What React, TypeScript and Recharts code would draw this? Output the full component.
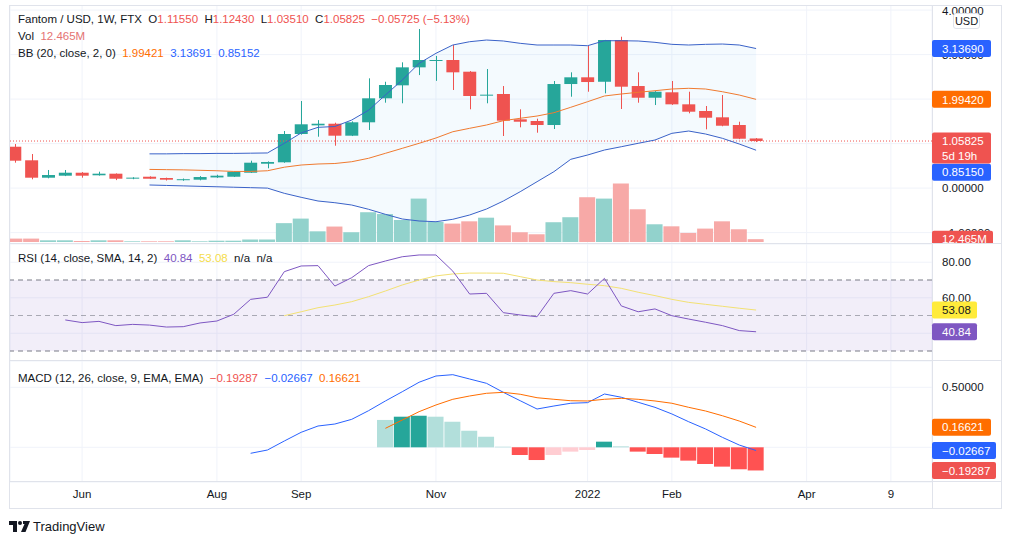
import React from "react";
import {
  ComposedChart,
  Bar,
  Line,
  Area,
  Cell,
  XAxis,
  YAxis,
  CartesianGrid,
  ReferenceLine,
  ReferenceArea,
} from "recharts";

// weekly bars, FTM/USD on FTX
const WEEKS = [
  "2021-05-10", "2021-05-17", "2021-05-24", "2021-05-31", "2021-06-07", "2021-06-14",
  "2021-06-21", "2021-06-28", "2021-07-05", "2021-07-12", "2021-07-19", "2021-07-26",
  "2021-08-02", "2021-08-09", "2021-08-16", "2021-08-23", "2021-08-30", "2021-09-06",
  "2021-09-13", "2021-09-20", "2021-09-27", "2021-10-04", "2021-10-11", "2021-10-18",
  "2021-10-25", "2021-11-01", "2021-11-08", "2021-11-15", "2021-11-22", "2021-11-29",
  "2021-12-06", "2021-12-13", "2021-12-20", "2021-12-27", "2022-01-03", "2022-01-10",
  "2022-01-17", "2022-01-24", "2022-01-31", "2022-02-07", "2022-02-14", "2022-02-21",
  "2022-02-28", "2022-03-07", "2022-03-14",
];

const OPEN = [
  0.93, 0.625, 0.234, 0.279, 0.346, 0.288, 0.324, 0.22, 0.256, 0.227, 0.19, 0.189,
  0.24, 0.256, 0.346, 0.548, 0.58, 1.216, 1.41, 1.447, 1.178, 1.479, 2.018, 2.31,
  2.714, 2.87, 2.879, 2.616, 2.08, 2.115, 1.546, 1.508, 1.418, 2.339, 2.49, 2.39,
  3.328, 2.294, 2.031, 2.153, 1.883, 1.733, 1.591, 1.418, 1.1155,
];
const HIGH = [
  0.99, 0.766, 0.407, 0.407, 0.36, 0.369, 0.33, 0.245, 0.265, 0.235, 0.215, 0.27,
  0.3, 0.37, 0.616, 0.6, 1.283, 1.957, 1.528, 1.47, 1.5, 2.467, 2.39, 2.827,
  3.575, 2.97, 3.216, 2.63, 2.676, 2.294, 1.771, 1.56, 2.407, 2.602, 3.193, 3.33,
  3.402, 2.602, 2.18, 2.407, 2.166, 1.845, 2.092, 1.492, 1.1243,
];
const LOW = [
  0.571, 0.198, 0.22, 0.27, 0.234, 0.28, 0.18, 0.2, 0.205, 0.17, 0.165, 0.175,
  0.23, 0.25, 0.34, 0.445, 0.57, 1.2, 1.155, 0.953, 1.17, 1.306, 1.92, 1.906,
  2.54, 2.41, 2.205, 1.771, 1.906, 1.171, 1.366, 1.245, 1.328, 2.054, 2.166, 2.13,
  1.778, 1.919, 1.867, 1.87, 1.681, 1.321, 1.39, 1.1, 1.0351,
];
const CLOSE = [
  0.616, 0.234, 0.294, 0.346, 0.279, 0.324, 0.211, 0.235, 0.211, 0.189, 0.2, 0.249,
  0.279, 0.369, 0.571, 0.587, 1.216, 1.434, 1.447, 1.178, 1.479, 2.018, 2.317, 2.714,
  2.879, 2.879, 2.602, 2.07, 2.1, 1.515, 1.492, 1.418, 2.339, 2.49, 2.384, 3.328,
  2.279, 2.031, 2.166, 1.883, 1.717, 1.582, 1.402, 1.11, 1.05825,
];
// volume, millions
const VOLUME = [
  15, 15, 7.5, 7.5, 4.4, 7.5, 7.5, 3, 3, 3, 7.5, 3,
  5.7, 5.7, 11, 11, 83, 103, 47, 68, 43, 131, 123, 97,
  191, 88, 81, 91, 107, 73, 43, 34, 87, 109, 197, 191,
  257, 144, 78, 69, 40, 59, 91, 56, 12.465,
];

const lead = (n: number, arr: number[]) => [...Array(n).fill(null), ...arr];

const BB_UPPER = lead(8, [
  0.77, 0.77, 0.775, 0.775, 0.78, 0.78, 0.785, 0.79, 1.007, 1.24, 1.366, 1.384,
  1.53, 1.75, 2.092, 2.429, 2.804, 3.029, 3.216, 3.29, 3.328, 3.306, 3.254, 3.216,
  3.216, 3.216, 3.2, 3.312, 3.312, 3.306, 3.276, 3.231, 3.216, 3.231, 3.238, 3.216,
  3.1369,
]);
const BB_BASIS = lead(8, [
  0.42, 0.415, 0.41, 0.4, 0.39, 0.375, 0.375, 0.39, 0.47, 0.519, 0.542, 0.553,
  0.593, 0.67, 0.782, 0.894, 1.007, 1.126, 1.267, 1.344, 1.418, 1.515, 1.569, 1.62,
  1.694, 1.816, 1.942, 2.07, 2.115, 2.153, 2.189, 2.227, 2.243, 2.227, 2.166, 2.092,
  1.9942,
]);
const BB_LOWER = lead(8, [
  0.07, 0.06, 0.05, 0.04, 0.03, 0.02, 0.01, 0.0, -0.117, -0.207, -0.29, -0.328,
  -0.38, -0.476, -0.589, -0.694, -0.739, -0.755, -0.701, -0.604, -0.47, -0.29, -0.081, 0.144,
  0.369, 0.647, 0.744, 0.856, 0.93, 1.007, 1.081, 1.231, 1.283, 1.216, 1.119, 0.991,
  0.8515,
]);

const RSI = lead(3, [
  47.5, 46, 46.7, 44.3, 45, 44.6, 43.5, 43.7, 45.8, 46.9, 50.7, 59.1,
  60.3, 74.7, 77.9, 78.1, 66.6, 71.3, 78.1, 80.7, 83.1, 84.1, 84.1, 75,
  62.1, 62.5, 51.6, 50.3, 49.3, 62.5, 64, 62.1, 70.9, 55.4, 52.1, 53.7,
  49.9, 48, 46.2, 44.3, 41.5, 40.84,
]);
const RSI_MA = lead(16, [
  49.9, 52.1, 54.4, 55.9, 57.8, 60.6, 63.8, 67.2, 70, 72.3, 73.4, 73.9,
  73.9, 73.8, 71.9, 70, 69.1, 68.5, 67.6, 66.8, 65.3, 63.1, 61.2, 59.1,
  57.4, 56.3, 55.2, 54.1, 53.08,
]);

const MACD = lead(14, [
  -0.05, -0.0225, 0.0525, 0.125, 0.1775, 0.194, 0.233, 0.305, 0.386, 0.463, 0.542, 0.594,
  0.605, 0.569, 0.533, 0.458, 0.388, 0.319, 0.344, 0.367, 0.372, 0.444, 0.417, 0.375,
  0.333, 0.278, 0.213, 0.153, 0.083, 0.019, -0.02667,
]);
const SIGNAL = lead(22, [
  0.158, 0.2275, 0.297, 0.3525, 0.4, 0.4275, 0.45, 0.458, 0.442, 0.413, 0.4, 0.388,
  0.386, 0.4, 0.408, 0.4, 0.386, 0.367, 0.333, 0.3025, 0.263, 0.219, 0.16621,
]);
const HIST = lead(22, [
  0.228, 0.255, 0.263, 0.255, 0.213, 0.138, 0.088, 0.005, -0.064, -0.106, -0.064, -0.036,
  -0.0225, 0.047, 0.008, -0.036, -0.056, -0.086, -0.111, -0.139, -0.161, -0.183, -0.19287,
]);

const TICK_IDX = [4, 12, 17, 25, 34, 39, 47, 52];
const TICK_LABELS = ["Jun", "Aug", "Sep", "Nov", "2022", "Feb", "Apr", "9"];
const PRICE_TICKS = [-1, 0, 1, 2, 3, 4];
const RSI_TICKS = [40, 60, 80];
const MACD_TICKS = [0, 0.5];

const UP = "#26a69a";
const DOWN = "#ef5350";
const TEXT = "#131722";
const GRID = "#f0f3fa";
const BORDER = "#e0e3eb";
const BLUE = "#2962ff";
const ORANGE = "#ff6d00";
const PURPLE = "#7e57c2";
const FONT = "'Liberation Sans', Arial, sans-serif";
const FS = 11.5;

const X_DOMAIN = [-0.28, 54.44];
const PRICE_DOMAIN = [-1.256, 4.115];
const VOL_DOMAIN = [-8.8, 1042.8];
const RSI_DOMAIN = [24.37, 90.28];
const MACD_DOMAIN = [-0.289, 0.719];

const rows = WEEKS.map((w, i) => ({
  i,
  week: w,
  o: OPEN[i],
  h: HIGH[i],
  l: LOW[i],
  c: CLOSE[i],
  vol: VOLUME[i],
  bbU: BB_UPPER[i],
  bbB: BB_BASIS[i],
  bbL: BB_LOWER[i],
  rsi: RSI[i],
  rsiMa: RSI_MA[i],
  macd: MACD[i],
  signal: SIGNAL[i],
  hist: HIST[i],
}));

const histColor = (i: number) => {
  const v = HIST[i];
  const p = HIST[i - 1];
  if (v == null) return "none";
  if (v >= 0) return p != null && v > p ? "#26a69a" : "#b2dfdb";
  return p != null && v < p ? "#ff5252" : "#ffcdd2";
};

const fmtMinus = (s: string) => s.replace("-", "\u2212");

const Candle = (props: any) => {
  const { x, y, width, height, payload } = props;
  if (!payload || payload.o == null) return null;
  const { o, h, l, c } = payload;
  const color = c >= o ? UP : DOWN;
  const k = h === l ? 0 : height / (h - l);
  const top = y + (h - Math.max(o, c)) * k;
  const bot = y + (h - Math.min(o, c)) * k;
  const cx = Math.round(x + width / 2) + 0.5;
  return (
    <g>
      <line x1={cx} x2={cx} y1={y} y2={y + height} stroke={color} strokeWidth={1} />
      <rect x={x} y={top} width={width} height={Math.max(1, bot - top)} fill={color} />
    </g>
  );
};

const Badge = (props: any) => {
  const { viewBox, text, sub, bg, fg = "#ffffff", w = 59, shift = 0 } = props;
  if (!viewBox) return null;
  const x0 = viewBox.x + viewBox.width;
  const y = viewBox.y + shift;
  const hgt = sub ? 31 : 17;
  return (
    <g>
      <rect x={x0} y={y - 8.5} width={w} height={hgt} rx={2} fill={bg} />
      <text x={x0 + 10} y={y} dy="0.36em" fontSize={FS} fontFamily={FONT} fill={fg}>
        {text}
      </text>
      {sub && (
        <text x={x0 + 10} y={y + 14.5} dy="0.36em" fontSize={FS} fontFamily={FONT} fill={fg}>
          {sub}
        </text>
      )}
    </g>
  );
};

const axisTick = { fontSize: FS, fill: TEXT, fontFamily: FONT };
const noMargin = { top: 0, right: 0, bottom: 0, left: 0 };

const priceAxis = (domain: number[], ticks: number[], fmt: (v: number) => string) => (
  <YAxis
    orientation="right"
    width={69}
    domain={domain}
    ticks={ticks}
    allowDataOverflow
    tickLine={false}
    axisLine={false}
    tickMargin={4}
    tick={axisTick}
    tickFormatter={fmt}
  />
);

// transparent layer on top of a pane that only carries the last-value badges
const BadgeLayer = ({ height, domain, children }: any) => (
  <ComposedChart width={991} height={height} data={rows} margin={noMargin}>
    <XAxis type="number" dataKey="i" domain={X_DOMAIN} allowDataOverflow hide />
    <YAxis orientation="right" width={69} domain={domain} allowDataOverflow tick={false} tickLine={false} axisLine={false} />
    <YAxis yAxisId="v" domain={VOL_DOMAIN} allowDataOverflow hide />
    {children}
  </ComposedChart>
);

const MainPane = () => (
  <ComposedChart width={991} height={239} data={rows} margin={noMargin}>
    <CartesianGrid stroke={GRID} />
    <XAxis type="number" dataKey="i" domain={X_DOMAIN} ticks={TICK_IDX} allowDataOverflow hide />
    <XAxis xAxisId="v" type="number" dataKey="i" domain={X_DOMAIN} ticks={TICK_IDX} allowDataOverflow hide />
    {priceAxis(PRICE_DOMAIN, PRICE_TICKS, (v) => fmtMinus(v.toFixed(5)))}
    <YAxis yAxisId="v" domain={VOL_DOMAIN} allowDataOverflow hide />
    <Bar xAxisId="v" yAxisId="v" dataKey="vol" barSize={16} isAnimationActive={false}>
      {rows.map((r) => (
        <Cell key={r.i} fill={r.c >= r.o ? "#92d2cc" : "#f7a9a7"} />
      ))}
    </Bar>
    <Area
      dataKey={(d: any) => (d.bbU == null ? null : [d.bbL, d.bbU])}
      stroke="none"
      fill="#2196f3"
      fillOpacity={0.05}
      isAnimationActive={false}
    />
    <ReferenceLine y={1.05825} stroke={DOWN} strokeDasharray="1 2" />
    <Line dataKey="bbU" stroke="#3a62c8" strokeWidth={1} dot={false} isAnimationActive={false} />
    <Line dataKey="bbL" stroke="#3a62c8" strokeWidth={1} dot={false} isAnimationActive={false} />
    <Line dataKey="bbB" stroke="#f07a30" strokeWidth={1} dot={false} isAnimationActive={false} />
    <Bar
      dataKey={(d: any) => [d.l, d.h]}
      barSize={13}
      shape={<Candle />}
      isAnimationActive={false}
    />
  </ComposedChart>
);

const MainBadges = () => (
  <BadgeLayer height={239} domain={PRICE_DOMAIN}>
    <ReferenceLine y={3.1369} stroke="none" label={<Badge text="3.13690" bg={BLUE} />} />
    <ReferenceLine y={1.9942} stroke="none" label={<Badge text="1.99420" bg={ORANGE} />} />
    <ReferenceLine y={0.8515} stroke="none" label={<Badge text="0.85150" bg={BLUE} shift={22} />} />
    <ReferenceLine y={1.05825} stroke="none" label={<Badge text="1.05825" sub="5d 19h" bg={DOWN} />} />
    <ReferenceLine yAxisId="v" y={12.465} stroke="none" label={<Badge text="12.465M" bg={DOWN} w={61} />} />
  </BadgeLayer>
);

const RsiPane = () => (
  <ComposedChart width={991} height={117} data={rows} margin={noMargin}>
    <CartesianGrid stroke={GRID} />
    <XAxis type="number" dataKey="i" domain={X_DOMAIN} ticks={TICK_IDX} allowDataOverflow hide />
    {priceAxis(RSI_DOMAIN, RSI_TICKS, (v) => v.toFixed(2))}
    <ReferenceArea y1={30} y2={70} fill={PURPLE} fillOpacity={0.1} stroke="none" />
    <ReferenceLine y={70} stroke="#787b86" strokeDasharray="5 4" />
    <ReferenceLine y={50} stroke="#787b86" strokeDasharray="5 4" strokeOpacity={0.6} />
    <ReferenceLine y={30} stroke="#787b86" strokeDasharray="5 4" />
    <Line dataKey="rsiMa" stroke="#f3e173" strokeWidth={1} dot={false} isAnimationActive={false} />
    <Line dataKey="rsi" stroke={PURPLE} strokeWidth={1} dot={false} isAnimationActive={false} />
  </ComposedChart>
);

const RsiBadges = () => (
  <BadgeLayer height={117} domain={RSI_DOMAIN}>
    <ReferenceLine y={53.08} stroke="none" label={<Badge text="53.08" bg="#ffeb3b" fg={TEXT} w={45} />} />
    <ReferenceLine y={40.84} stroke="none" label={<Badge text="40.84" bg={PURPLE} w={45} />} />
  </BadgeLayer>
);

const MacdPane = () => (
  <ComposedChart width={991} height={147} data={rows} margin={noMargin}>
    <CartesianGrid stroke={GRID} />
    <XAxis
      type="number"
      dataKey="i"
      domain={X_DOMAIN}
      ticks={TICK_IDX}
      interval={0}
      allowDataOverflow
      height={26}
      axisLine={false}
      tickLine={false}
      tick={axisTick}
      tickFormatter={(v: number) => TICK_LABELS[TICK_IDX.indexOf(v)] ?? ""}
    />
    {priceAxis(MACD_DOMAIN, MACD_TICKS, (v) => v.toFixed(5))}
    <Bar dataKey="hist" barSize={16} isAnimationActive={false}>
      {rows.map((r) => (
        <Cell key={r.i} fill={histColor(r.i)} />
      ))}
    </Bar>
    <Line dataKey="macd" stroke={BLUE} strokeWidth={1} dot={false} isAnimationActive={false} />
    <Line dataKey="signal" stroke={ORANGE} strokeWidth={1} dot={false} isAnimationActive={false} />
  </ComposedChart>
);

const MacdBadges = () => (
  <BadgeLayer height={121} domain={MACD_DOMAIN}>
    <ReferenceLine y={0.16621} stroke="none" label={<Badge text="0.16621" bg={ORANGE} />} />
    <ReferenceLine y={-0.02667} stroke="none" label={<Badge text={"\u22120.02667"} bg={BLUE} w={64} />} />
    <ReferenceLine y={-0.19287} stroke="none" label={<Badge text={"\u22120.19287"} bg={DOWN} w={64} />} />
  </BadgeLayer>
);

const hLine = (top: number): React.CSSProperties => ({
  position: "absolute",
  left: 9,
  top,
  width: 993,
  height: 1,
  background: BORDER,
});

const legend = (top: number): React.CSSProperties => ({
  position: "absolute",
  left: 18,
  top,
  fontSize: FS,
  lineHeight: "17px",
  color: TEXT,
  whiteSpace: "pre",
});

const at = (top: number): React.CSSProperties => ({ position: "absolute", left: 10, top });

export default function App() {
  return (
    <div
      style={{
        position: "absolute",
        left: 0,
        top: 0,
        width: 1012,
        height: 541,
        background: "#ffffff",
        fontFamily: FONT,
        overflow: "hidden",
      }}
    >
      <div style={at(5)}><MainPane /></div>
      <div style={at(244)}><RsiPane /></div>
      <div style={at(361)}><MacdPane /></div>

      {/* frame and pane separators */}
      <div
        style={{
          position: "absolute",
          left: 9,
          top: 5,
          width: 993,
          height: 504,
          border: `1px solid ${BORDER}`,
          boxSizing: "border-box",
        }}
      />
      <div style={hLine(243)} />
      <div style={hLine(360)} />
      <div style={hLine(481)} />
      <div style={{ position: "absolute", left: 932, top: 5, width: 1, height: 504, background: BORDER }} />

      <div style={{ ...at(5), height: 238, overflow: "hidden" }}><MainBadges /></div>
      <div style={{ ...at(244), height: 116, overflow: "hidden" }}><RsiBadges /></div>
      <div style={{ ...at(361), height: 120, overflow: "hidden" }}><MacdBadges /></div>

      <div
        style={{
          position: "absolute",
          left: 953,
          top: 13,
          width: 27,
          height: 16,
          border: `1px solid ${BORDER}`,
          borderRadius: 3,
          background: "#ffffff",
          fontSize: 11,
          lineHeight: "14px",
          textAlign: "center",
          color: TEXT,
          boxSizing: "border-box",
        }}
      >
        USD
      </div>

      <div style={legend(10.5)}>
        {"Fantom / USD, 1W, FTX  "}
        O<span style={{ color: DOWN }}>1.11550</span>
        {"  "}H<span style={{ color: DOWN }}>1.12430</span>
        {"  "}L<span style={{ color: DOWN }}>1.03510</span>
        {"  "}C<span style={{ color: DOWN }}>1.05825</span>
        {"  "}
        <span style={{ color: DOWN }}>{"\u22120.05725 (\u22125.13%)"}</span>
      </div>
      <div style={legend(27.5)}>
        {"Vol  "}
        <span style={{ color: "#e57373" }}>12.465M</span>
      </div>
      <div style={legend(44.5)}>
        {"BB (20, close, 2, 0)  "}
        <span style={{ color: ORANGE }}>1.99421</span>
        {"  "}
        <span style={{ color: BLUE }}>3.13691</span>
        {"  "}
        <span style={{ color: BLUE }}>0.85152</span>
      </div>
      <div style={legend(250)}>
        {"RSI (14, close, SMA, 14, 2)  "}
        <span style={{ color: PURPLE }}>40.84</span>
        {"  "}
        <span style={{ color: "#f5dc4a" }}>53.08</span>
        {"  n/a  n/a"}
      </div>
      <div style={legend(369.5)}>
        {"MACD (12, 26, close, 9, EMA, EMA)  "}
        <span style={{ color: DOWN }}>{"\u22120.19287"}</span>
        {"  "}
        <span style={{ color: BLUE }}>{"\u22120.02667"}</span>
        {"  "}
        <span style={{ color: ORANGE }}>0.16621</span>
      </div>

      <div style={{ position: "absolute", left: 9, top: 520, display: "flex", alignItems: "center" }}>
        <svg width={21} height={11} viewBox="0 0 21 11">
          <path d="M0 0 H8 V11 H4 V4 H0 Z" fill={TEXT} />
          <circle cx={11} cy={2} r={2} fill={TEXT} />
          <path d="M14 0 H21 L16.5 11 H12 L15.5 3 H14 Z" fill={TEXT} />
        </svg>
        <span style={{ marginLeft: 3, fontSize: 13, color: TEXT, lineHeight: "13px" }}>TradingView</span>
      </div>
    </div>
  );
}
